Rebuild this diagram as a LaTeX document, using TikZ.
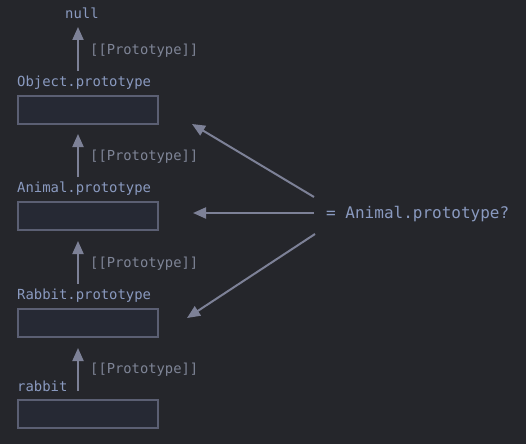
\documentclass[tikz,border=0pt]{standalone}
\usepackage{fontspec}
\setmonofont{DejaVu Sans Mono}
\usetikzlibrary{arrows.meta}
\definecolor{bg}{HTML}{25262B}
\definecolor{boxfill}{HTML}{262934}
\definecolor{boxline}{HTML}{5B5F73}
\definecolor{lbl}{HTML}{8A9AC0}
\definecolor{prot}{HTML}{7F8597}
\definecolor{arr}{HTML}{7D8197}
\begin{document}
\begin{tikzpicture}[x=1pt,y=-1pt,
  objbox/.style={draw=boxline,fill=boxfill,line width=1.5pt,minimum width=140pt,minimum height=28pt,inner sep=0pt,anchor=north west},
  objlabel/.style={text=lbl,font=\ttfamily\fontsize{13.9}{14}\selectfont,anchor=west,inner sep=0pt},
  protlabel/.style={text=prot,font=\ttfamily\fontsize{13.8}{14}\selectfont,anchor=west,inner sep=0pt},
  parrow/.style={draw=arr,line width=2pt,-{Triangle[length=13pt,width=11pt]}}]
\fill[bg] (0,0) rectangle (526,444);
\useasboundingbox (0,0) rectangle (526,444);
% labels
\node[objlabel] (null) at (65,13) {null};
\node[objlabel] (objl) at (17,83) {Object.prototype};
\node[objlabel] (anil) at (17,189) {Animal.prototype};
\node[objlabel] (rabl) at (17,296) {Rabbit.prototype};
\node[objlabel] (rl) at (17,386) {rabbit};
% boxes
\node[objbox] (objb) at (17,95) {};
\node[objbox] (anib) at (17,201) {};
\node[objbox] (rabb) at (17,308) {};
\node[objbox] (rb) at (17,399) {};
% vertical arrows
\coordinate (a1s) at (78,71); \coordinate (a1e) at (78,27);
\coordinate (a2s) at (78,177); \coordinate (a2e) at (78,134);
\coordinate (a3s) at (78,284); \coordinate (a3e) at (78,241);
\coordinate (a4s) at (78,391); \coordinate (a4e) at (78,348);
\draw[parrow] (a1s) -- (a1e);
\draw[parrow] (a2s) -- (a2e);
\draw[parrow] (a3s) -- (a3e);
\draw[parrow] (a4s) -- (a4e);
\node[protlabel] (p1) at (90,51) {[[Prototype]]};
\node[protlabel] (p2) at (90,157) {[[Prototype]]};
\node[protlabel] (p3) at (90,264) {[[Prototype]]};
\node[protlabel] (p4) at (90,370) {[[Prototype]]};
% question
\node[text=lbl,font=\ttfamily\fontsize{16}{17}\selectfont,anchor=west,inner sep=0pt] (q) at (326,214) {= Animal.prototype?};
\coordinate (d1s) at (314,197); \coordinate (d1e) at (192,124);
\coordinate (d2s) at (314,213); \coordinate (d2e) at (193,213);
\coordinate (d3s) at (315,234); \coordinate (d3e) at (187,318);
\draw[parrow] (d1s) -- (d1e);
\draw[parrow] (d2s) -- (d2e);
\draw[parrow] (d3s) -- (d3e);
\end{tikzpicture}
\end{document}
